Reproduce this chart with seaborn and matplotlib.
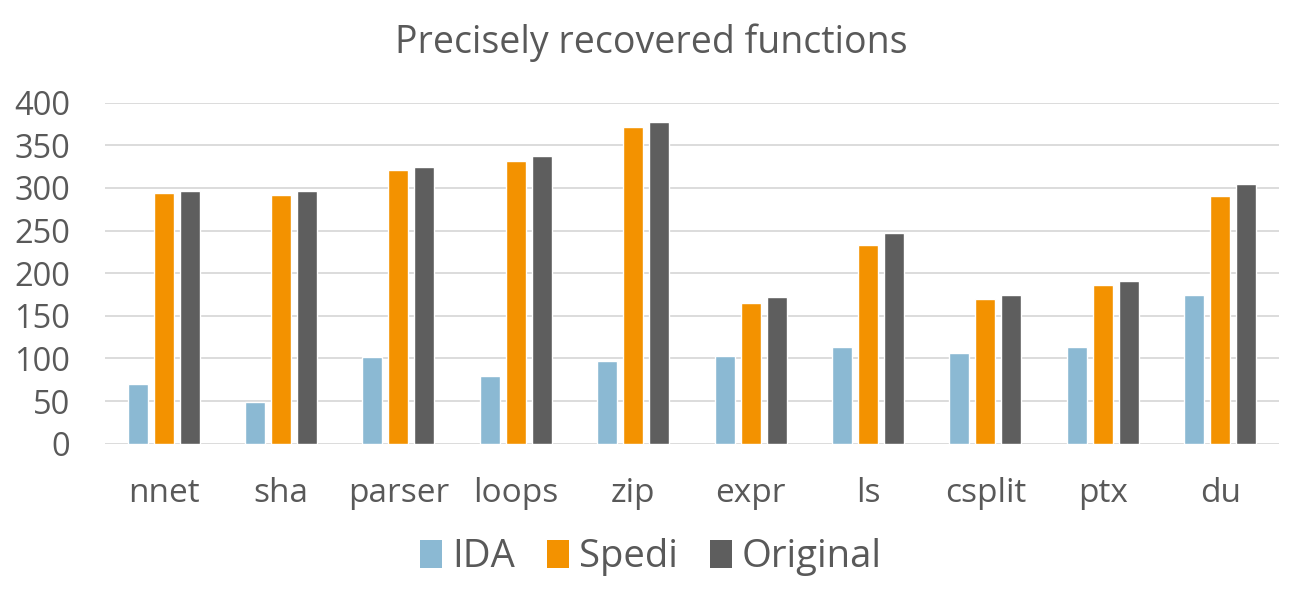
import pandas as pd
import matplotlib.pyplot as plt
import seaborn as sns
from matplotlib.patches import Patch

programs = ["nnet", "sha", "parser", "loops", "zip", "expr", "ls", "csplit", "ptx", "du"]
ida = [70, 49, 102, 79, 97, 103, 113, 106, 113, 174]
spedi = [294, 292, 321, 332, 372, 165, 233, 170, 186, 291]
original = [296, 296, 325, 337, 377, 172, 247, 174, 191, 305]
series = ["IDA", "Spedi", "Original"]
colors = ["#8BB9D3", "#F39200", "#5E5E5E"]
y_ticks = [0, 50, 100, 150, 200, 250, 300, 350, 400]

df = pd.DataFrame({"program": programs, "IDA": ida, "Spedi": spedi, "Original": original})
long_df = df.melt(id_vars="program", var_name="tool", value_name="count")

sns.set_theme(style="whitegrid")
plt.rcParams["font.family"] = ["Open Sans", "DejaVu Sans"]
text_color = "#595959"

fig = plt.figure(figsize=(13.02, 6.02), dpi=100)
ax = fig.add_axes([0.0806, 0.263, 0.9017, 0.5664])
sns.barplot(data=long_df, x="program", y="count", hue="tool", hue_order=series,
            palette=colors, width=0.665, gap=0.23, saturation=1, ax=ax, legend=False)

ax.set_ylim(0, 400)
ax.set_xlim(-0.5, len(programs) - 0.5)
ax.set_yticks(y_ticks)
ax.set_xlabel("")
ax.set_ylabel("")
ax.yaxis.grid(True, color="#D9D9D9", linewidth=1.3)
ax.xaxis.grid(False)
ax.set_axisbelow(True)
for s in ax.spines.values():
    s.set_visible(False)
ax.tick_params(axis="y", length=0, pad=25, labelsize=23.5, labelcolor=text_color)
ax.tick_params(axis="x", length=0, pad=24, labelsize=24, labelcolor=text_color)

fig.text(0.5, 1 - 43 / 602, "Precisely recovered functions", ha="center", va="center",
         fontsize=27, color=text_color)

handles = [Patch(facecolor=c, edgecolor="none", label=s) for s, c in zip(series, colors)]
fig.legend(handles=handles, loc="center", bbox_to_anchor=(0.5, 1 - 557 / 602), ncol=3,
           frameon=False, fontsize=27.5, labelcolor=text_color, handlelength=0.58,
           handleheight=0.75, handletextpad=0.25, columnspacing=0.85)

fig.savefig("out.png", dpi=100)
